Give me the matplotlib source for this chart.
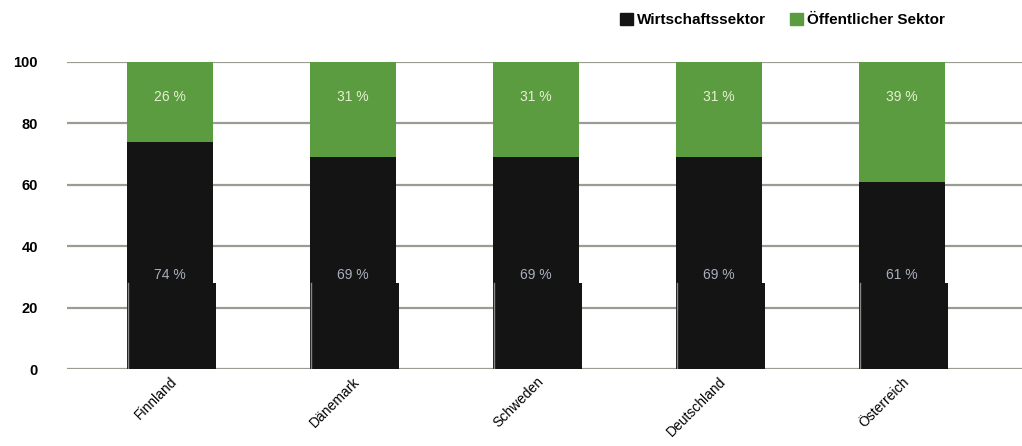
import matplotlib
matplotlib.use("Agg")
import matplotlib.pyplot as plt
from matplotlib.patches import Patch

plt.rcParams["font.family"] = ["Liberation Sans", "DejaVu Sans"]

categories = ["Finnland", "Dänemark", "Schweden", "Deutschland", "Österreich"]
wirtschaft = [74, 69, 69, 69, 61]
oeffentlich = [26, 31, 31, 31, 39]
base_block = [28, 28, 28, 28, 28]
yticks = [0, 20, 40, 60, 80, 100]

BLACK = "#141414"
GREEN = "#5c9c40"

fig = plt.figure(figsize=(10.22, 4.46), dpi=100)
ax = fig.add_axes([0.0656, 0.1726, 0.9344, 0.6884])

x = list(range(len(categories)))
w = 0.47
ax.bar(x, wirtschaft, width=w, color=BLACK, zorder=3)
ax.bar(x, oeffentlich, width=w, bottom=wirtschaft, color=GREEN, zorder=3)

# percentage labels sit at a fixed height in each segment
for i, (a, b) in enumerate(zip(wirtschaft, oeffentlich)):
    ax.text(i, 30.5, f"{a} %", ha="center", va="center", color="#a9b0bd",
            fontsize=10, zorder=4)
    ax.text(i, 88.5, f"{b} %", ha="center", va="center", color="#e6efd2",
            fontsize=10, zorder=4)

# solid base blocks over the lower part of each column
ax.bar([i + 0.012 for i in x], base_block, width=w + 0.012, color=BLACK,
       edgecolor="none", zorder=5)
for i in x:
    ax.plot([i - w / 2 + 0.004] * 2, [0, base_block[i]], color="#888888",
            lw=1, zorder=5)

ax.set_xlim(-0.563, 4.656)
ax.set_ylim(0, 100)
ax.set_yticks(yticks)
ax.set_yticklabels([str(v) for v in yticks], fontsize=10.5, fontweight="bold")
ax.yaxis.grid(True, color="#9a9c92", lw=1.6, zorder=1)
ax.tick_params(axis="y", length=0, pad=21)
ax.tick_params(axis="x", length=0, pad=4)
ax.set_xticks(x)
ax.set_xticklabels(categories, rotation=45, ha="right", rotation_mode="anchor",
                   fontsize=10)
for s in ax.spines.values():
    s.set_visible(False)

handles = [Patch(color=BLACK, label="Wirtschaftssektor"),
           Patch(color=GREEN, label="Öffentlicher Sektor")]
fig.legend(handles=handles, loc="center right", bbox_to_anchor=(0.935, 0.955),
           ncol=2, frameon=False, handlelength=0.85, handleheight=0.85,
           handletextpad=0.25, columnspacing=1.6, borderpad=0.2,
           prop={"weight": "bold", "size": 11})

fig.savefig("out.png", dpi=100)
